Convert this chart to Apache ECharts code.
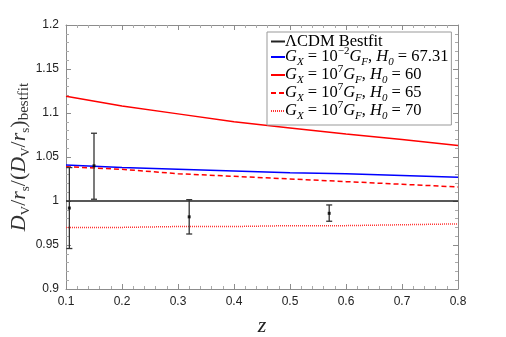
<!DOCTYPE html>
<html><head><meta charset="utf-8">
<script src="https://cdn.jsdelivr.net/npm/echarts@6/dist/echarts.min.js"></script>
<style>html,body{margin:0;padding:0;background:#fff}#c{width:506px;height:337px}</style>
</head><body><div id="c"></div>
<script>
var zGrid = [0.1, 0.2, 0.3, 0.4, 0.5, 0.6, 0.7, 0.8];
var lcdm = [1, 1, 1, 1, 1, 1, 1, 1];
var gx1e2_h6731 = [1.041, 1.038, 1.036, 1.034, 1.032, 1.031, 1.029, 1.027];
var gx1e7_h60 = [1.119, 1.108, 1.099, 1.090, 1.083, 1.076, 1.070, 1.063];
var gx1e7_h65 = [1.039, 1.036, 1.031, 1.028, 1.025, 1.022, 1.019, 1.016];
var gx1e7_h70 = [0.970, 0.970, 0.971, 0.971, 0.972, 0.972, 0.973, 0.974];
var obsZ = [0.106, 0.15, 0.32, 0.57];
var obsVal = [0.992, 1.040, 0.982, 0.986];
var obsLow = [0.946, 1.002, 0.9625, 0.977];
var obsHigh = [1.038, 1.077, 1.0015, 0.9955];
var xTicks = ['0.1','0.2','0.3','0.4','0.5','0.6','0.7','0.8'];
var yTicks = ['0.9','0.95','1','1.05','1.1','1.15','1.2'];

function pairs(v){ return zGrid.map(function(z,i){return [z, v[i]];}); }

var serif = 'Liberation Serif';
var rich = {
  n: {fontFamily: serif, fontSize: 16.5, lineHeight: 22, color: '#000'},
  i: {fontFamily: serif, fontStyle: 'italic', fontSize: 16.5, lineHeight: 22, color: '#000'},
  sb: {fontFamily: serif, fontStyle: 'italic', fontSize: 11, lineHeight: 11, verticalAlign: 'bottom', color: '#000'},
  sp: {fontFamily: serif, fontSize: 11, lineHeight: 13, verticalAlign: 'top', color: '#000'}
};
var names = ['lcdm','b','r60','r65','r70'];
var labels = {
  lcdm: '{n|ΛCDM Bestfit}',
  b: '{i|G}{sb|X}{n| = 10}{sp|−2}{i|G}{sb|F}{n|, }{i|H}{sb|0}{n| = 67.31}',
  r60: '{i|G}{sb|X}{n| = 10}{sp|7}{i|G}{sb|F}{n|, }{i|H}{sb|0}{n| = 60}',
  r65: '{i|G}{sb|X}{n| = 10}{sp|7}{i|G}{sb|F}{n|, }{i|H}{sb|0}{n| = 65}',
  r70: '{i|G}{sb|X}{n| = 10}{sp|7}{i|G}{sb|F}{n|, }{i|H}{sb|0}{n| = 70}'
};

var axisGray = '#8c8c8c';
function xAx(pos, show){
  return {type:'value', min:0.1, max:0.8, interval:0.1, position:pos,
    axisLine:{show:true, onZero:false, lineStyle:{color:axisGray, width:1}},
    axisTick:{show:true, inside:true, length:5, lineStyle:{color:axisGray}},
    minorTick:{show:true, splitNumber:5, length:3, lineStyle:{color:'#aaa'}},
    splitLine:{show:false},
    axisLabel:{show:show, margin:7, color:'#222', fontFamily:'Liberation Sans', fontSize:12,
      formatter:function(v){ return xTicks[Math.round((v-0.1)*10)]; }},
    name: show ? '{z|z}' : '', nameLocation:'middle', nameGap:26, nameMoveOverlap:false,
    nameTextStyle:{rich:{z:{fontFamily:serif, fontStyle:'italic', fontSize:22, color:'#222'}}}
  };
}
function yAx(pos, show){
  return {type:'value', min:0.9, max:1.2, interval:0.05, position:pos,
    axisLine:{show:true, onZero:false, lineStyle:{color:axisGray, width:1}},
    axisTick:{show:true, inside:true, length:5, lineStyle:{color:axisGray}},
    minorTick:{show:true, splitNumber:5, length:3, lineStyle:{color:'#aaa'}},
    splitLine:{show:false},
    axisLabel:{show:show, margin:7, color:'#222', fontFamily:'Liberation Sans', fontSize:12,
      formatter:function(v){ return yTicks[Math.round((v-0.9)*20)]; }},
    name: show ? '{i|D}{s|V}{n|/}{i|r}{s|s}{n|/(}{i|D}{s|V}{n|/}{i|r}{s|s}{n|)}{t|bestfit}' : '',
    nameLocation:'middle', nameGap:34, nameRotate:90, nameMoveOverlap:false,
    nameTextStyle:{rich:{
      i:{fontFamily:serif, fontStyle:'italic', fontSize:22, lineHeight:26, color:'#333'},
      n:{fontFamily:serif, fontSize:22, lineHeight:26, color:'#333'},
      s:{fontFamily:serif, fontSize:13, lineHeight:12, verticalAlign:'bottom', color:'#333'},
      t:{fontFamily:serif, fontSize:15, lineHeight:13, verticalAlign:'bottom', color:'#333'}
    }}
  };
}

var chart = echarts.init(document.getElementById('c'), null, {renderer:'canvas'});
chart.setOption({
  animation:false,
  backgroundColor:'#fff',
  grid:{left:66, right:48, top:25, bottom:48, containLabel:false, outerBoundsMode:'none'},
  xAxis:[xAx('bottom', true), xAx('top', false)],
  yAxis:[yAx('left', true), yAx('right', false)],
  legend:{
    left:267, top:32, orient:'vertical', itemGap:-4, itemWidth:14, itemHeight:10,
    padding:[1,3,3,3], borderColor:'#999', borderWidth:1, backgroundColor:'#fff',
    data: names,
    itemStyle:{opacity:0},
    formatter:function(n){ return labels[n]; },
    textStyle:{rich:rich, padding:[0,0,0,-5]},
    selectedMode:false
  },
  series:[
    {name:'lcdm', type:'line', data:pairs(lcdm), symbol:'none', color:'#222', lineStyle:{color:'#222', width:1.5}, z:3},
    {name:'b', type:'line', data:pairs(gx1e2_h6731), symbol:'none', color:'#0000ff', lineStyle:{color:'#0000ff', width:1.5}, z:3},
    {name:'r60', type:'line', data:pairs(gx1e7_h60), symbol:'none', color:'#ff0000', lineStyle:{color:'#ff0000', width:1.5}, z:3},
    {name:'r65', type:'line', data:pairs(gx1e7_h65), symbol:'none', color:'#ff0000', lineStyle:{color:'#ff0000', width:1.5, type:[5,3]}, z:3},
    {name:'r70', type:'line', data:pairs(gx1e7_h70), symbol:'none', color:'#ff3333', lineStyle:{color:'#ff3333', width:1.5, type:[1,1]}, z:3},
    {name:'err', type:'custom', z:4,
      data: obsZ.map(function(z,i){ return [z, obsLow[i], obsHigh[i]]; }),
      renderItem:function(params, api){
        var lo = api.coord([api.value(0), api.value(1)]);
        var hi = api.coord([api.value(0), api.value(2)]);
        var st = {stroke:'#333', lineWidth:1.3};
        return {type:'group', children:[
          {type:'line', shape:{x1:lo[0], y1:lo[1], x2:hi[0], y2:hi[1]}, style:st},
          {type:'line', shape:{x1:lo[0]-3, y1:lo[1], x2:lo[0]+3, y2:lo[1]}, style:st},
          {type:'line', shape:{x1:hi[0]-3, y1:hi[1], x2:hi[0]+3, y2:hi[1]}, style:st}
        ]};
      }
    },
    {name:'pts', type:'scatter', z:5, symbol:'rect', symbolSize:3, itemStyle:{color:'#000'},
      data: obsZ.map(function(z,i){ return [z, obsVal[i]]; })}
  ]
});
</script></body></html>
